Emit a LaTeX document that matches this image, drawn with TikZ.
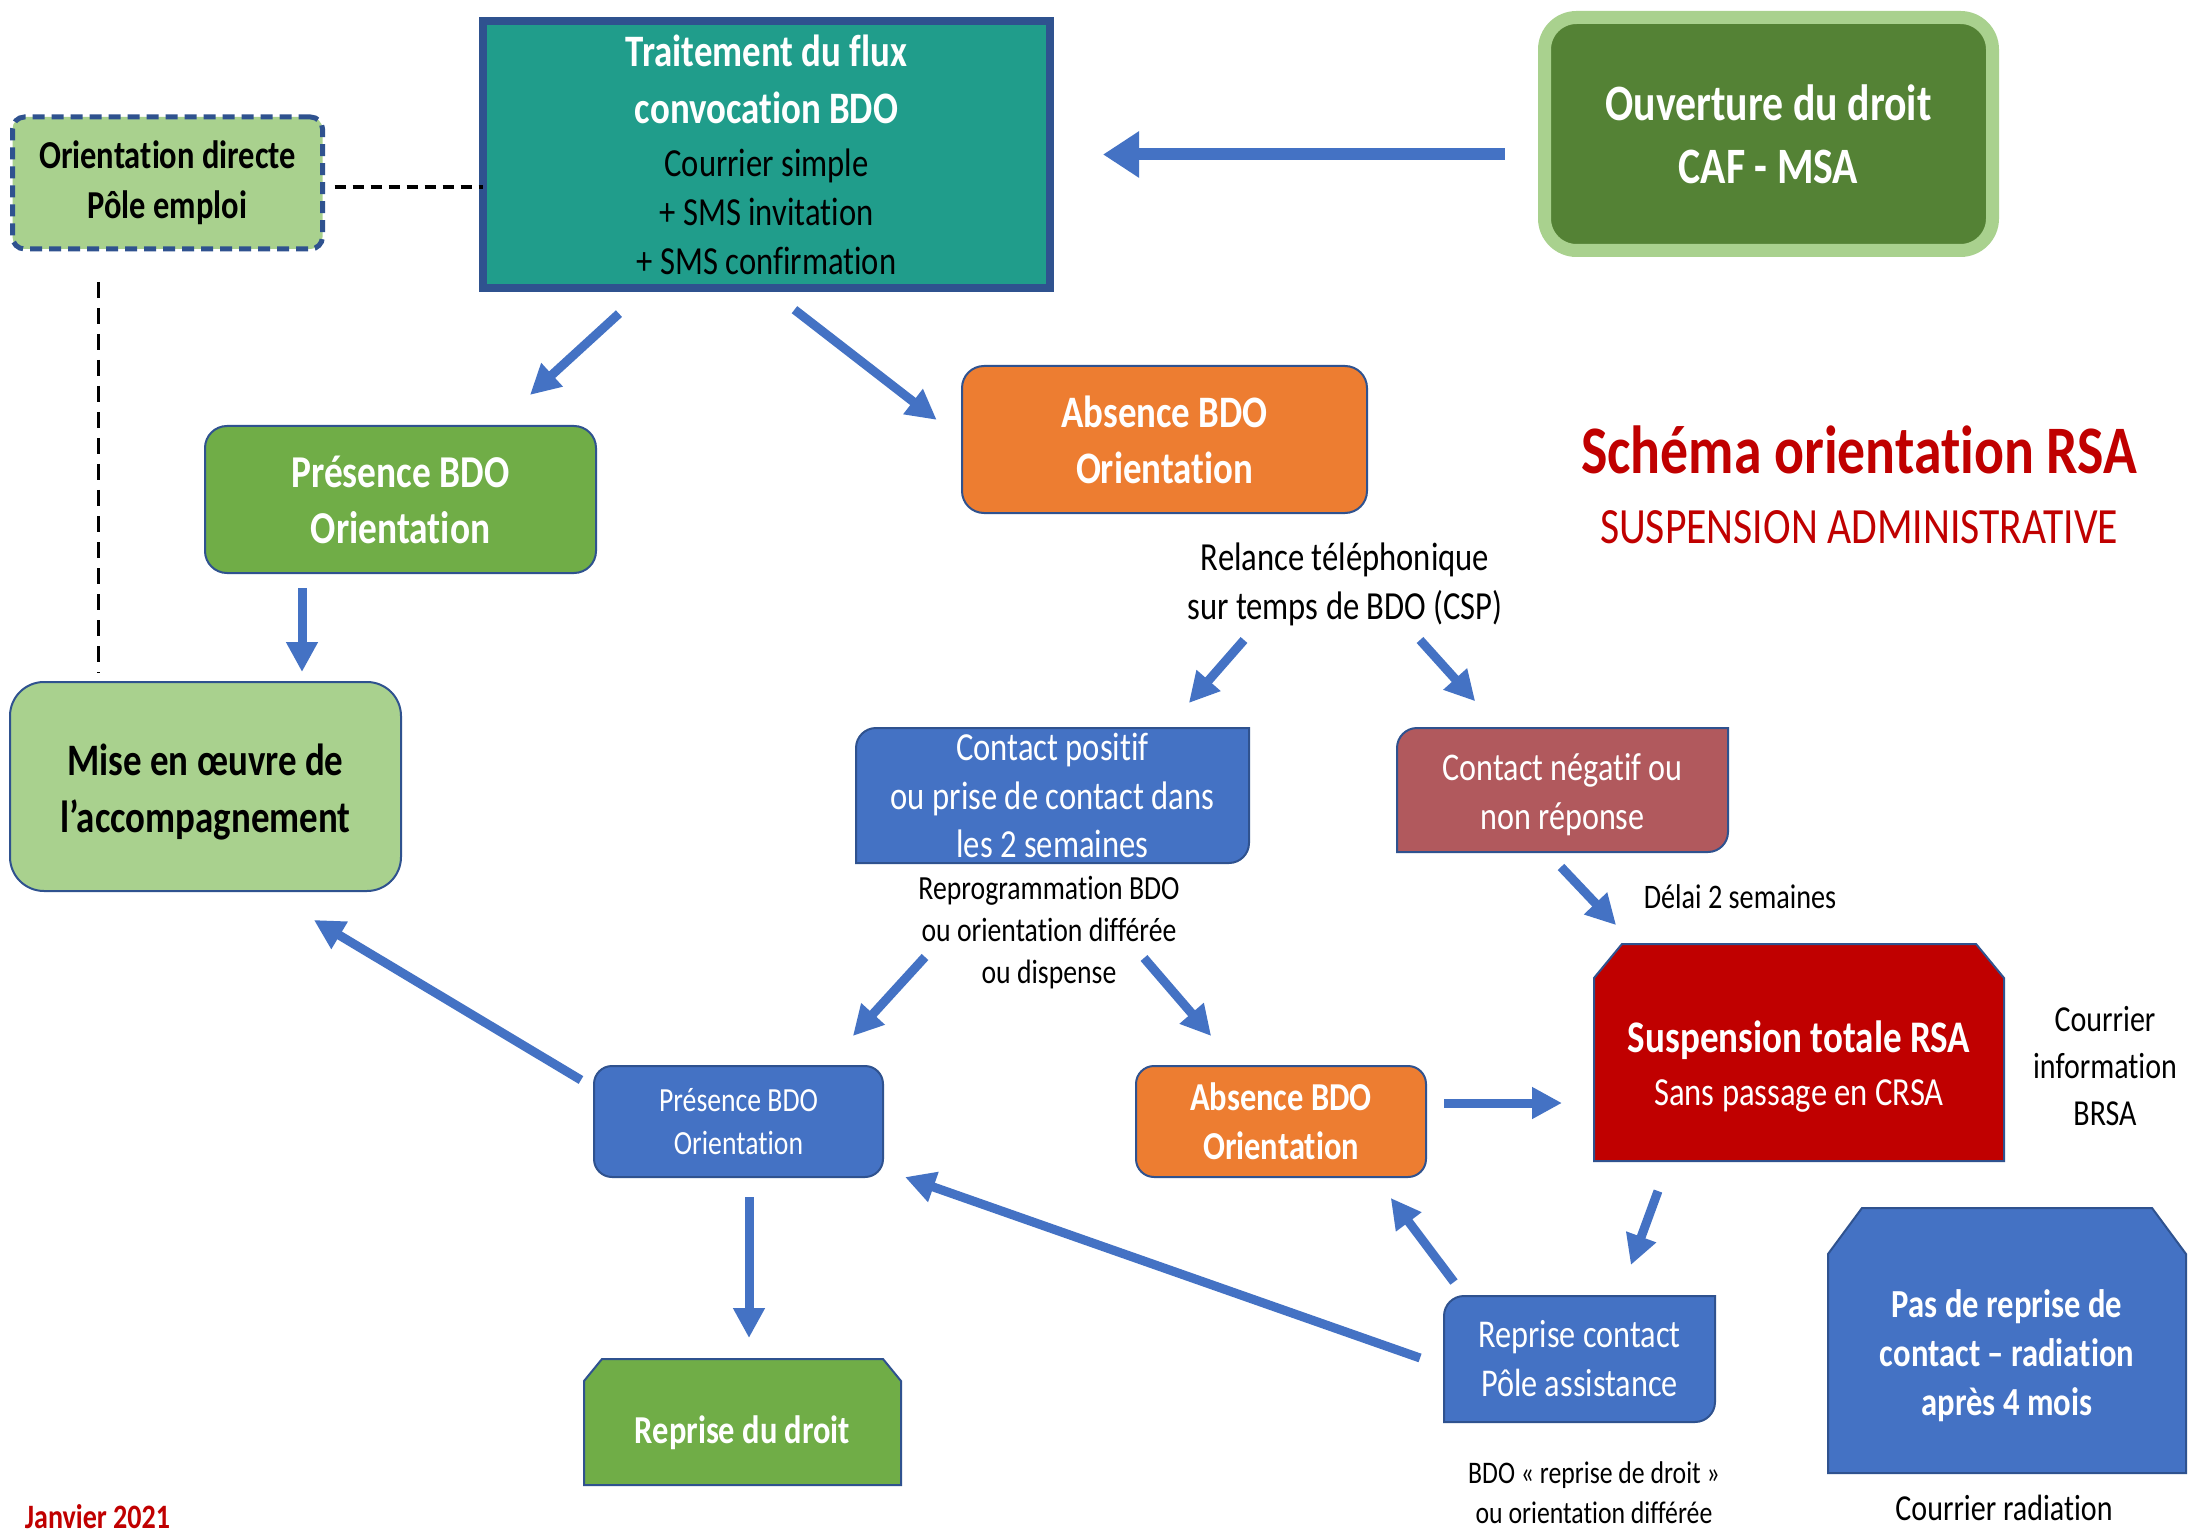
\documentclass[tikz,border=0pt]{standalone}
\usepackage{fontspec}
\setmainfont{Carlito}[FakeStretch=0.82, Ligatures=NoCommon]
\usepackage{tikz}
\usetikzlibrary{arrows.meta,positioning,calc,backgrounds}
\usepackage{xcolor}
\definecolor{tealcol}{RGB}{32,157,139}
\definecolor{bordcol}{RGB}{47,82,143}
\definecolor{vertclair}{RGB}{169,209,142}
\definecolor{vertfonce}{RGB}{84,130,53}
\definecolor{vertcol}{RGB}{112,173,71}
\definecolor{orangecol}{RGB}{237,125,49}
\definecolor{bleucol}{RGB}{68,114,196}
\definecolor{rosecol}{RGB}{177,89,93}
\definecolor{rougecol}{RGB}{192,0,0}
\newcommand{\fs}[2]{\fontsize{#1}{#2}\selectfont}
\tikzset{
  box/.style={draw=bordcol, line width=1pt, rounded corners=#1, inner sep=0pt,
    outer sep=0pt, align=center, text=white},
  box/.default=10pt,
  lbl/.style={inner sep=0pt, outer sep=0pt, align=center},
  flow/.style={draw=bleucol, line width=4.5pt, -{Triangle[width=15pt,length=15pt]}},
  bigflow/.style={flow, line width=6pt, -{Triangle[width=22pt,length=18pt]}},
  tiret/.style={draw=black, line width=2pt, dash pattern=on 5.5pt off 3.5pt},
}

\begin{document}
\begin{tikzpicture}[x=0.5pt, y=-0.5pt]
\useasboundingbox (0,0) rectangle (2190,1535);

% Boîte à coins arrondis en diagonale (haut gauche, bas droit)
\newcommand{\boitediag}[2]{%
  \filldraw[fill=#2, draw=bordcol, line width=1pt]
    (#1.south west) -- ([yshift=-10pt]#1.north west)
    arc[start angle=180, end angle=90, radius=10pt]
    -- (#1.north east) -- ([yshift=10pt]#1.south east)
    arc[start angle=0, end angle=-90, radius=10pt] -- cycle;%
}
% Boîte à coins supérieurs coupés
\newcommand{\boitecoupee}[4]{%
  \filldraw[fill=#2, draw=bordcol, line width=1pt]
    (#1.south west) -- ([yshift=-#4]#1.north west) -- ([xshift=#3]#1.north west)
    -- ([xshift=-#3]#1.north east) -- ([yshift=-#4]#1.north east)
    -- (#1.south east) -- cycle;%
}

% Haut du schéma
\node[box=0pt, fill=tealcol, line width=4pt, text=black, minimum width=283.5pt,
  minimum height=133.5pt, font=\fs{19.9}{24.5}] (trait) at (766.5,154.5)
  {{\color{white}\bfseries\fs{22.5}{28.5}Traitement du flux}\\[4pt]
   {\color{white}\bfseries\fs{22.5}{28.5}convocation BDO}\\[2pt]
   Courrier simple\\+ SMS invitation\\+ SMS confirmation};
\node[box=6pt, fill=vertclair, line width=2.5pt, dash pattern=on 6pt off 3.5pt,
  text=black, minimum width=155pt, minimum height=66pt,
  font=\bfseries\fs{19.8}{25}] (orient) at (167.5,183)
  {Orientation directe\\Pôle emploi};
\node[box=16pt, fill=vertfonce, draw=vertclair, line width=6.5pt,
  minimum width=224pt, minimum height=116.5pt,
  font=\bfseries\fs{25.5}{31.5}] (ouv) at (1768.5,134)
  {Ouverture du droit\\CAF - MSA};

\node[box=11pt, fill=vertcol, minimum width=195.5pt, minimum height=73.5pt,
  font=\bfseries\fs{22.8}{28}] (pres) at (400.5,499.5)
  {Présence BDO\\Orientation};
\node[box=17pt, fill=vertclair, text=black, minimum width=195.5pt,
  minimum height=104.5pt, font=\bfseries\fs{22.5}{28.5}] (mise) at (205.5,786.5)
  {\rule{0pt}{21pt}Mise en œuvre de\\l’accompagnement};
\node[box=11pt, fill=orangecol, minimum width=202.5pt, minimum height=73.5pt,
  font=\bfseries\fs{22.5}{28}] (abs) at (1164.5,439.5)
  {Absence BDO\\Orientation};

% Titre
\node[lbl, text=rougecol, font=\bfseries\fs{34}{40}] (titre) at (1859,450)
  {Schéma orientation RSA};
\node[lbl, text=rougecol, font=\fs{25.4}{30}] (soustitre) at (1859,527)
  {SUSPENSION ADMINISTRATIVE};

% Relance et contacts
\node[lbl, font=\fs{19.9}{24.5}] (relance) at (1345,584.5)
  {Relance téléphonique\\sur temps de BDO (CSP)};
\node[lbl, text=white, minimum width=196.5pt, minimum height=67.5pt,
  font=\fs{19.9}{24.3}] (cp) at (1052.5,795.5)
  {Contact positif\\ou prise de contact dans\\les 2 semaines};
\node[lbl, text=white, minimum width=165.5pt, minimum height=62pt,
  font=\fs{19.6}{24.5}] (cn) at (1562.5,790)
  {\rule{0pt}{18.5pt}Contact négatif ou\\non réponse};
\node[lbl, font=\fs{16.9}{21}] (reprog) at (1049,933)
  {Reprogrammation BDO\\ou orientation différée\\ou dispense};
\node[lbl, font=\fs{17.2}{21}] (delai) at (1740,897) {Délai 2 semaines};

% Suspension
\node[lbl, minimum width=205pt, minimum height=108.5pt] (susp) at (1799,1052.5) {};
\node[lbl, text=white, font=\fs{19.9}{26.5}] (susp-t) at ([yshift=-7.25pt]susp.center)
  {{\bfseries\fs{22.6}{26.5}Suspension totale RSA}\\Sans passage en CRSA};
\node[lbl, font=\fs{18.3}{23.3}] (info) at (2105,1066)
  {Courrier\\information\\BRSA};

% Bas du schéma
\node[box=9pt, fill=bleucol, minimum width=144.5pt, minimum height=55.5pt,
  font=\fs{16.9}{21.5}] (pb) at (738.5,1121.5)
  {Présence BDO\\Orientation};
\node[box=9pt, fill=orangecol, minimum width=145pt, minimum height=55.5pt,
  font=\bfseries\fs{19.8}{24.5}] (ab2) at (1281,1121.5)
  {Absence BDO\\Orientation};
\node[lbl, minimum width=158.5pt, minimum height=63pt] (rd) at (742.5,1422) {};
\node[lbl, text=white, font=\bfseries\fs{19.8}{24.5}] (rd-t)
  at ([yshift=-5.5pt]rd.center) {Reprise du droit};
\node[lbl, text=white, minimum width=135.5pt, minimum height=63pt,
  font=\fs{19.7}{24.5}] (rc) at (1579.5,1359)
  {Reprise contact\\Pôle assistance};
\node[lbl, font=\fs{15.7}{20}] (bdo) at (1594,1493)
  {BDO « reprise de droit »\\ou orientation différée};
\node[lbl, minimum width=179pt, minimum height=132.5pt] (pdr) at (2007,1340.5) {};
\node[lbl, text=white, font=\bfseries\fs{19.9}{24.5}] (pdr-t)
  at ([yshift=-7.7pt]pdr.center)
  {Pas de reprise de\\contact – radiation\\après 4 mois};
\node[lbl, font=\fs{18.3}{22}] (crad) at (2004,1508) {Courrier radiation};
\node[lbl, text=rougecol, font=\bfseries\fs{17.1}{20}] (janv) at (97.5,1517)
  {Janvier 2021};

% Fond et formes particulières
\begin{scope}[on background layer]
  \fill[white] (0,0) rectangle (2190,1535);
  \boitediag{cp}{bleucol}
  \boitediag{cn}{rosecol}
  \boitediag{rc}{bleucol}
  \boitecoupee{susp}{rougecol}{14pt}{17pt}
  \boitecoupee{rd}{vertcol}{9pt}{11pt}
  \boitecoupee{pdr}{bleucol}{17pt}{23pt}
\end{scope}

% Liaisons en tirets
\draw[tiret, shorten <=6pt] ([yshift=-2pt]orient.east)
  -- ([yshift=-2pt]orient.east -| trait.west);
\draw[tiret, line width=1.5pt, dash pattern=on 8pt off 5pt, shorten <=16.5pt,
  shorten >=4.5pt] ([xshift=-34.75pt]orient.south)
  -- ([xshift=-34.75pt]orient.south |- mise.north);

% Flèches
\draw[bigflow, shorten <=20pt, shorten >=26.5pt] (trait.east -| ouv.west) -- (trait.east);
\draw[flow, shorten <=19pt, shorten >=23pt] ([shift={(-119.5,0)}]trait.south)
  -- ([shift={(95.5,0)}]pres.north);
\draw[flow, shorten <=17.7pt, shorten >=16pt] (trait.south) -- (abs.west);
\draw[flow, shorten <=7.5pt, shorten >=5pt] ([xshift=-49.25pt]pres.south)
  -- ([xshift=-49.25pt]pres.south |- mise.north);
\draw[flow, shorten >=16.6pt] ([shift={(-101,55.5)}]relance.center)
  -- ([shift={(114.5,0)}]cp.north);
\draw[flow, shorten >=18pt] ([shift={(75,55.5)}]relance.center)
  -- ([shift={(-63.2,0)}]cn.north);
\draw[flow, shorten >=20.3pt] ([shift={(-124,24)}]reprog.center)
  -- ([shift={(87,0)}]pb.north);
\draw[flow, shorten >=19.8pt] ([shift={(95,25)}]reprog.center)
  -- ([shift={(-44,0)}]ab2.north);
\draw[flow, shorten <=10.3pt, shorten >=13pt] ([shift={(-15.7,0)}]cn.south)
  -- ([shift={(-165,0)}]susp.north);
\draw[flow, shorten <=9pt, shorten >=16pt] ([yshift=9.25pt]ab2.east)
  -- ([yshift=9.25pt]ab2.east -| susp.west);
\draw[flow, shorten <=7.6pt, shorten >=28.2pt] ([shift={(0,-33.7)}]pb.west)
  -- ([shift={(60,0)}]mise.south);
\draw[flow, shorten <=10pt, shorten >=10.5pt] ([xshift=5.25pt]pb.south)
  -- ([xshift=5.25pt]pb.south |- rd.north);
\draw[flow, shorten <=16pt, shorten >=16.5pt] ([shift={(-130,0)}]susp.south)
  -- ([shift={(40,0)}]rc.north);
\draw[flow, shorten <=8.75pt, shorten >=13.1pt] ([shift={(-115,0)}]rc.north)
  -- ([shift={(94,0)}]ab2.south);
\draw[flow, shorten <=12.7pt, shorten >=11.7pt] ([shift={(0,7.4)}]rc.west)
  -- ([shift={(0,47.8)}]pb.east);

\end{tikzpicture}
\end{document}
